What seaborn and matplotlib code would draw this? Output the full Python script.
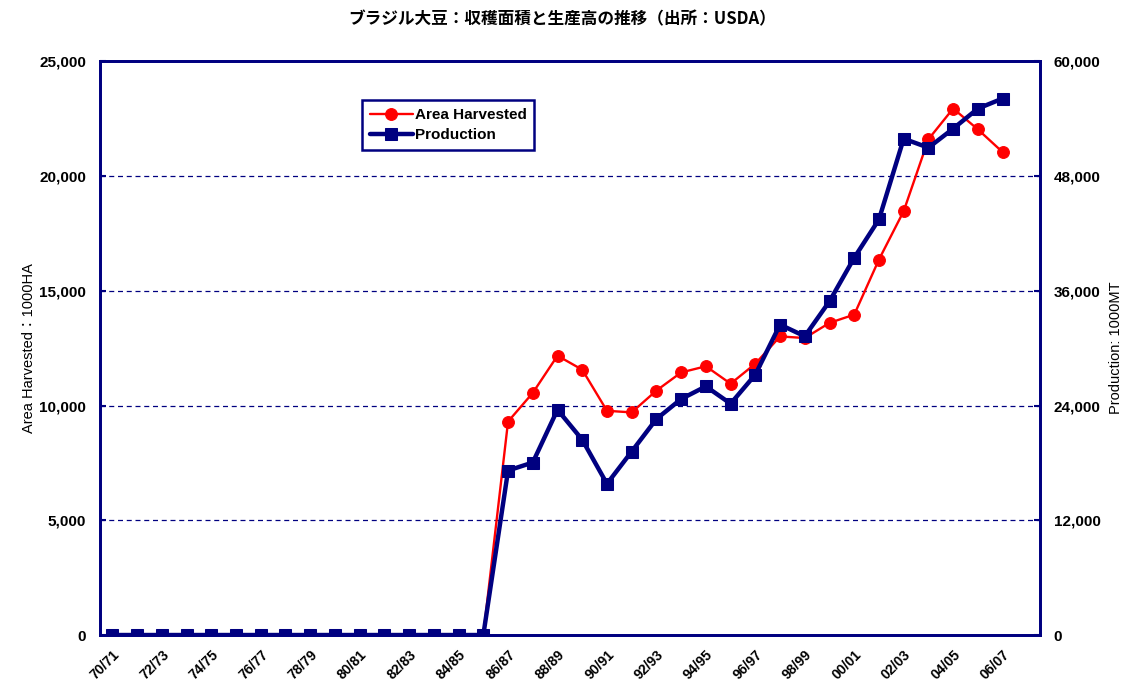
import numpy as np
import pandas as pd
import matplotlib
matplotlib.use('Agg')
import matplotlib.pyplot as plt
import seaborn as sns
from matplotlib.ticker import FuncFormatter, FixedLocator

seasons = ['70/71', '71/72', '72/73', '73/74', '74/75', '75/76', '76/77', '77/78',
           '78/79', '79/80', '80/81', '81/82', '82/83', '83/84', '84/85', '85/86',
           '86/87', '87/88', '88/89', '89/90', '90/91', '91/92', '92/93', '93/94',
           '94/95', '95/96', '96/97', '97/98', '98/99', '99/00', '00/01', '01/02',
           '02/03', '03/04', '04/05', '05/06', '06/07', '07/08']

# area harvested, 1000 HA (left axis)
area = [0, 0, 0, 0, 0, 0, 0, 0, 0, 0, 0, 0, 0, 0, 0, 0,
        9300, 10550, 12170, 11560, 9770, 9700, 10650, 11440,
        11710, 10950, 11820, 13010, 12940, 13600, 13960, 16360,
        18470, 21600, 22940, 22030, 21040, np.nan]

# production, 1000 MT (right axis)
production = [0, 0, 0, 0, 0, 0, 0, 0, 0, 0, 0, 0, 0, 0, 0, 0,
              17200, 18040, 23560, 20420, 15810, 19190, 22590, 24680,
              26000, 24190, 27230, 32460, 31240, 34900, 39450, 43460,
              51900, 50960, 52950, 55050, 56100, np.nan]

df = pd.DataFrame({'pos': np.arange(len(seasons)), 'season': seasons,
                   'area': area, 'production': production})

sns.set_style('white')
plt.rcParams['font.family'] = ['Liberation Sans', 'Noto Sans CJK JP', 'DejaVu Sans']
plt.rcParams['text.color'] = 'black'
plt.rcParams['axes.labelcolor'] = 'black'
plt.rcParams['xtick.labelcolor'] = 'black'
plt.rcParams['ytick.labelcolor'] = 'black'

navy = '#000080'
red = '#ff0000'

fig = plt.figure(figsize=(11.24, 6.88), dpi=100)
ax = fig.add_axes([0.089, 0.077, 0.836, 0.834])
ax2 = ax.twinx()

sns.lineplot(data=df, x='pos', y='area', ax=ax, color=red, marker='o',
             markersize=8.5, markeredgecolor=red, linewidth=1.7, label='Area Harvested',
             legend=False, zorder=3)
sns.lineplot(data=df, x='pos', y='production', ax=ax2, color=navy, marker='s',
             markersize=9, markeredgecolor=navy, linewidth=3.2, label='Production',
             legend=False, zorder=3)

ax.set_xlim(-0.5, len(seasons) - 0.5)
ax.set_ylim(0, 25000)
ax2.set_ylim(0, 60000)
ax.set_yticks(np.arange(0, 25001, 5000))
ax2.set_yticks(np.arange(0, 60001, 12000))

fmt = FuncFormatter(lambda v, p: f'{int(v):,}')
ax.yaxis.set_major_formatter(fmt)
ax2.yaxis.set_major_formatter(fmt)

# labels every other season, tick marks at category boundaries
lab_pos = df['pos'][::2]
ax.xaxis.set_major_locator(FixedLocator(lab_pos))
ax.set_xticklabels(df['season'][::2], rotation=45, ha='right',
                   rotation_mode='anchor', fontsize=10, fontweight='bold')
ax.xaxis.set_minor_locator(FixedLocator(np.arange(1.5, len(seasons) - 1, 2)))
ax.tick_params(axis='x', which='major', length=0, pad=9)
ax.tick_params(axis='x', which='minor', length=4, width=1.5, color=navy, direction='in')

ax.tick_params(axis='y', length=4, width=1.5, color=navy, direction='in',
               labelsize=11, pad=10)
ax2.tick_params(axis='y', length=4, width=1.5, color=navy, direction='in',
                labelsize=11, pad=10)
for t in ax.get_yticklabels() + ax2.get_yticklabels():
    t.set_fontweight('bold')

ax.yaxis.grid(True, color=navy, linestyle=(0, (4, 3)), linewidth=0.9)
ax.set_axisbelow(True)

for a in (ax, ax2):
    for s in a.spines.values():
        s.set_color(navy)
        s.set_linewidth(2)

ax.set_xlabel('')
ax.set_ylabel('Area Harvested：1000HA', fontsize=10.5, labelpad=2)
ax2.set_ylabel('Production: 1000MT', fontsize=10.5, labelpad=6)

fig.suptitle('ブラジル大豆：収穫面積と生産高の推移（出所：USDA）', y=0.985,
             fontsize=12, fontweight='bold',
             family=['Noto Sans CJK JP', 'DejaVu Sans'])

h1, l1 = ax.get_legend_handles_labels()
h2, l2 = ax2.get_legend_handles_labels()
leg = ax2.legend(h1 + h2, l1 + l2, loc='upper left', bbox_to_anchor=(0.279, 0.932),
                 frameon=True, fancybox=False, framealpha=1, edgecolor=navy,
                 prop={'size': 11, 'weight': 'bold'}, handlelength=2.8,
                 handletextpad=0.15, borderpad=0.5, labelspacing=0.4,
                 borderaxespad=0)
leg.get_frame().set_linewidth(1.8)

fig.savefig('out.png', dpi=100)
